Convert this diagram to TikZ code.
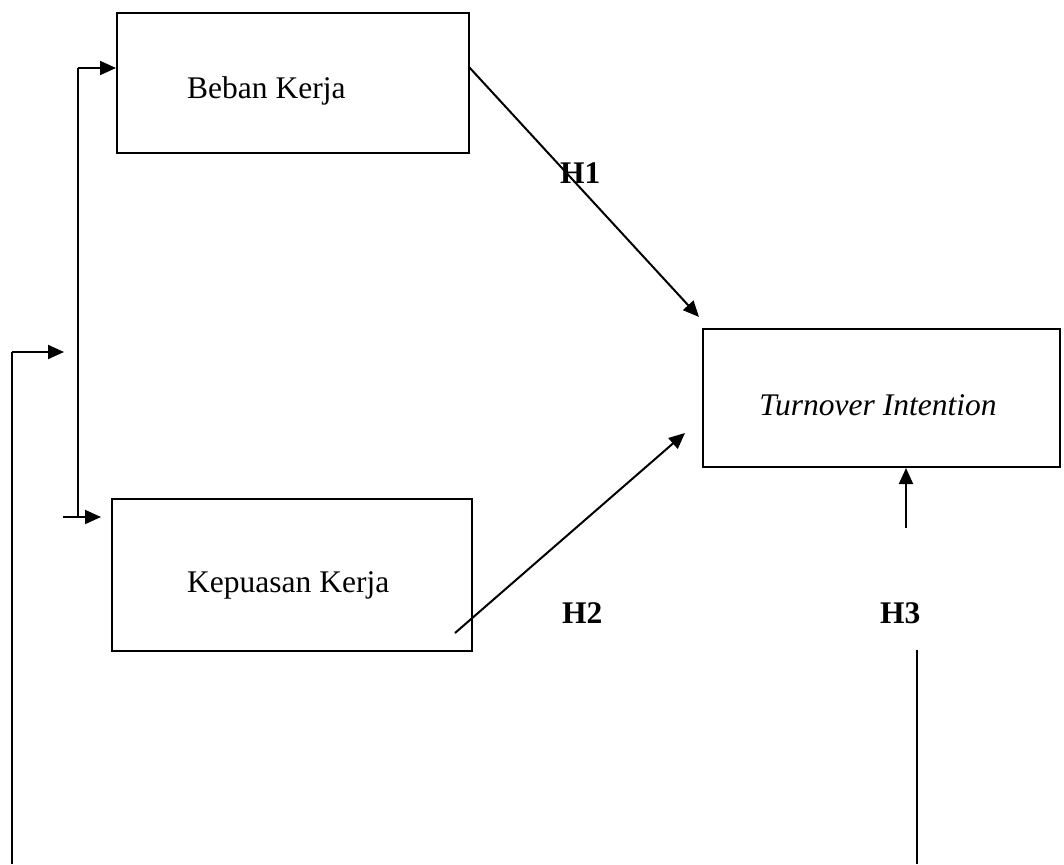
\documentclass[tikz,border=0pt]{standalone}
\usepackage{fontspec}
\setmainfont{Liberation Serif}
\usetikzlibrary{arrows.meta}
\begin{document}
\begin{tikzpicture}[x=1pt,y=-1pt,
  box/.style={draw, line width=2pt, inner sep=0pt, anchor=north west},
  lbl/.style={inner sep=0pt, font=\fontsize{31.5}{34}\selectfont},
  hlbl/.style={inner sep=0pt, anchor=base west, font=\fontsize{31.5}{34}\selectfont\bfseries},
  conn/.style={line width=2pt},
  arr/.style={line width=2pt, -{Triangle[length=16pt,width=14pt]}}]
\useasboundingbox (0,0) rectangle (1064,864);
% boxes
\node[box, minimum width=352pt, minimum height=140pt] (bk) at (116,12) {};
\node[box, minimum width=360pt, minimum height=152pt] (kk) at (111,498) {};
\node[box, minimum width=357pt, minimum height=138pt] (ti) at (702,328) {};
% box texts
\node[lbl, anchor=base west] (tbk) at (187,99) {Beban Kerja};
\node[lbl, anchor=base west] (tkk) at (187,592) {Kepuasan Kerja};
\node[lbl, anchor=base] (tti) at (878,415) {\itshape Turnover Intention};
% hypothesis labels
\node[hlbl] (h1) at (560,183) {H1};
\node[hlbl] (h2) at (562,623) {H2};
\node[hlbl] (h3) at (880,623) {H3};
% left bracket
\coordinate (jt) at (78,68);
\coordinate (jb) at (78,517);
\coordinate (jbs) at (63,517);
\coordinate (jbe) at (101,517);
\draw[conn] (jt) -- (jb);
\draw[arr] (jt) -- (bk.west |- jt);
\draw[arr] (jbs) -- (jbe);
% outer line
\coordinate (ob) at (12,864);
\coordinate (ot) at (12,352);
\coordinate (oe) at (64,352);
\draw[conn] (ob) -- (ot);
\draw[arr] (ot) -- (oe);
% H1 and H2 arrows
\coordinate (h1s) at (469,67);
\coordinate (h1e) at (699,317);
\draw[arr] (h1s) -- (h1e);
\coordinate (h2s) at (455,633);
\coordinate (h2e) at (685,433);
\draw[arr] (h2s) -- (h2e);
% H3
\coordinate (h3s) at (906,528);
\draw[arr] (h3s) -- (ti.south -| h3s);
\coordinate (rt) at (917,650);
\coordinate (rb) at (917,864);
\draw[conn] (rt) -- (rb);
\end{tikzpicture}
\end{document}
